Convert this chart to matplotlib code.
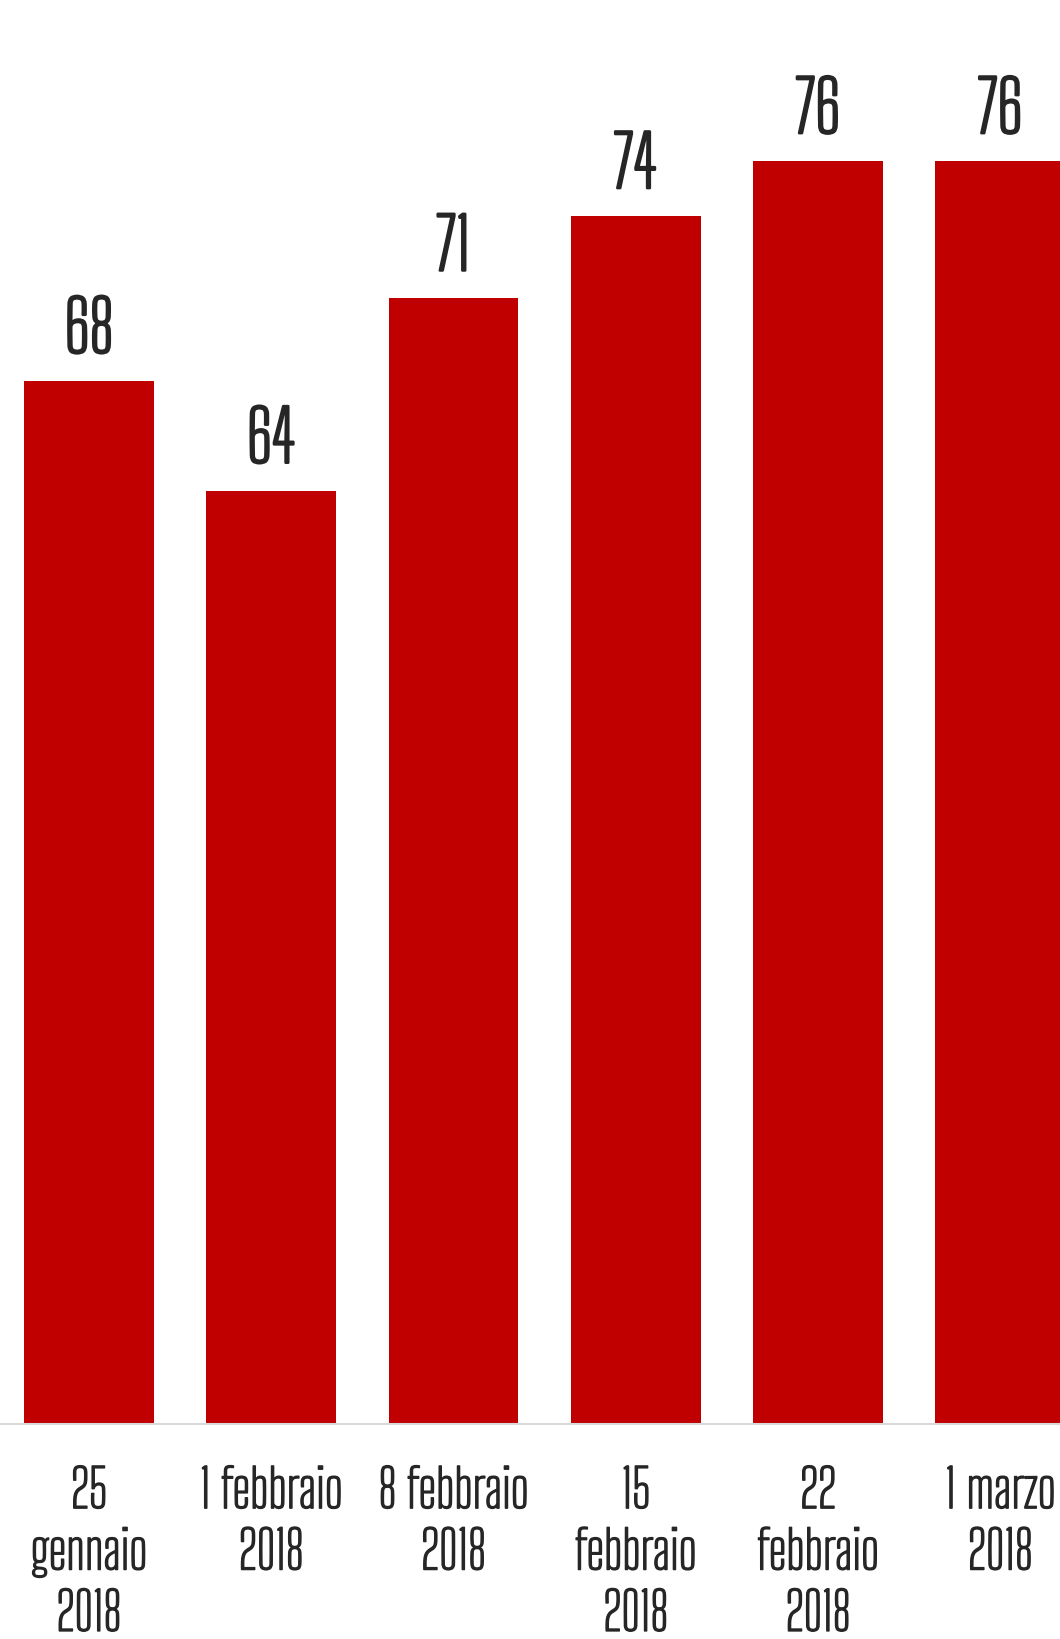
import matplotlib
matplotlib.use("Agg")
import matplotlib.pyplot as plt
import matplotlib.patheffects as pe

# dati
date_labels = ["25\ngennaio\n2018", "1 febbraio\n2018", "8 febbraio\n2018",
               "15\nfebbraio\n2018", "22\nfebbraio\n2018", "1 marzo\n2018"]
valori = [68, 64, 71, 74, 76, 76]

plt.rcParams['font.family'] = ['Big Shoulders Text', 'Saira ExtraCondensed', 'DejaVu Sans']
testo = '#262626'

fig = plt.figure(figsize=(10.6, 16.4), dpi=100)
ax = fig.add_axes([0, 0.1308, 1, 0.8692])

x = list(range(len(valori)))
bars = ax.bar(x, valori, width=0.712, color='#c00000', zorder=2)

ax.set_xlim(-0.488, 5.327)
ax.set_ylim(30, 81.9)

for xi, v in zip(x, valori):
    ax.annotate(str(v), (xi, v), xytext=(0, 10), textcoords='offset points',
                ha='center', va='bottom', fontsize=51, color=testo,
                path_effects=[pe.withStroke(linewidth=1.8, foreground=testo)])

ax.set_xticks(x)
ax.set_xticklabels(date_labels, fontsize=38, color=testo, linespacing=1.2)
for lbl in ax.get_xticklabels():
    lbl.set_path_effects([pe.withStroke(linewidth=1.0, foreground=testo)])
ax.tick_params(axis='x', length=0, pad=30)
ax.set_yticks([])

for s in ['top', 'right', 'left']:
    ax.spines[s].set_visible(False)
ax.spines['bottom'].set_color('#d9d9d9')
ax.spines['bottom'].set_linewidth(1.5)

fig.savefig('out.png', dpi=100)
